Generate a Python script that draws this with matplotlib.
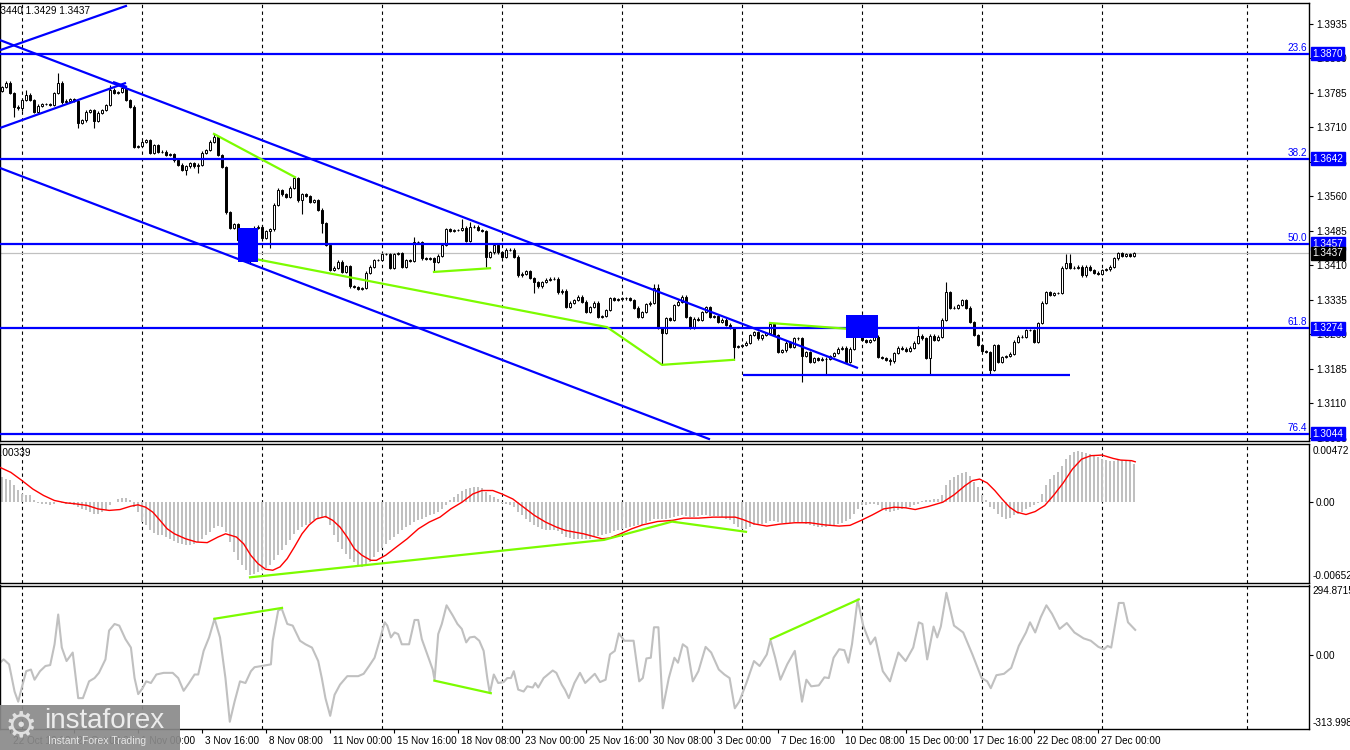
import matplotlib
matplotlib.use("Agg")
import matplotlib.pyplot as plt
import numpy as np
from matplotlib.patches import Rectangle
from matplotlib.transforms import blended_transform_factory, ScaledTranslation

plt.rcParams["font.family"] = ["Liberation Sans", "DejaVu Sans"]

# ---------------- data (H4 bars, prices in pips = 1e-4) ----------------
first_open = 13790
closes = [
    13798, 13807, 13785, 13755, 13752, 13770, 13781, 13770, 13744, 13757, 13761, 13761, 13759, 13785, 13807, 13765, 13768, 13772, 13768, 13720,
    13726, 13744, 13748, 13724, 13742, 13748, 13759, 13792, 13785, 13787, 13796, 13770, 13755, 13668, 13670, 13679, 13683, 13655, 13672, 13657,
    13657, 13650, 13652, 13639, 13629, 13618, 13626, 13633, 13626, 13629, 13655, 13661, 13679, 13689, 13650, 13624, 13526, 13492, 13500, 13465,
    13455, 13429, 13433, 13492, 13494, 13470, 13485, 13489, 13542, 13574, 13565, 13559, 13579, 13600, 13552, 13565, 13561, 13548, 13552, 13531,
    13502, 13455, 13400, 13405, 13418, 13396, 13409, 13365, 13363, 13359, 13361, 13394, 13407, 13422, 13422, 13435, 13435, 13405, 13435, 13437,
    13407, 13422, 13420, 13461, 13461, 13426, 13424, 13426, 13418, 13431, 13455, 13489, 13485, 13487, 13487, 13492, 13463, 13494, 13494, 13487,
    13485, 13429, 13439, 13455, 13439, 13429, 13444, 13444, 13429, 13389, 13392, 13398, 13383, 13374, 13365, 13374, 13379, 13381, 13381, 13352,
    13355, 13320, 13329, 13335, 13342, 13331, 13309, 13320, 13329, 13298, 13300, 13313, 13339, 13335, 13337, 13339, 13339, 13335, 13318, 13298,
    13309, 13326, 13329, 13361, 13274, 13263, 13296, 13292, 13324, 13331, 13342, 13298, 13274, 13294, 13292, 13309, 13320, 13298, 13300, 13287,
    13292, 13281, 13274, 13233, 13235, 13237, 13242, 13259, 13265, 13252, 13259, 13263, 13283, 13259, 13222, 13226, 13242, 13233, 13252, 13252,
    13213, 13222, 13200, 13209, 13205, 13207, 13207, 13213, 13220, 13229, 13231, 13200, 13229, 13265, 13270, 13248, 13244, 13248, 13255, 13211,
    13209, 13205, 13202, 13220, 13231, 13229, 13224, 13231, 13242, 13257, 13252, 13209, 13257, 13248, 13255, 13292, 13352, 13318, 13318, 13324,
    13335, 13318, 13287, 13259, 13237, 13224, 13222, 13183, 13237, 13200, 13211, 13213, 13218, 13244, 13255, 13255, 13270, 13270, 13244, 13285,
    13329, 13352, 13346, 13350, 13350, 13405, 13415, 13405, 13405, 13407, 13389, 13407, 13400, 13394, 13392, 13400, 13402, 13407, 13426, 13437,
    13431, 13435, 13431, 13437,
]
# upper / lower shadow length beyond the body, pips
wick_hi = [
    3, 4, 3, 3, 3, 3, 11, 3, 3, 3, 3, 3, 3, 3, 22, 3, 3, 3, 3, 3,
    3, 3, 3, 3, 3, 3, 3, 11, 3, 3, 11, 3, 3, 3, 3, 3, 3, 3, 3, 3,
    3, 3, 3, 3, 3, 3, 3, 3, 3, 3, 3, 3, 3, 7, 3, 3, 3, 3, 3, 3,
    3, 3, 3, 3, 3, 3, 3, 3, 3, 5, 3, 3, 3, 5, 3, 3, 3, 3, 3, 3,
    3, 3, 3, 3, 3, 3, 3, 3, 3, 3, 3, 3, 3, 3, 3, 3, 3, 3, 3, 3,
    3, 3, 3, 11, 3, 3, 3, 3, 3, 3, 3, 3, 3, 3, 3, 20, 3, 10, 3, 3,
    3, 3, 3, 3, 3, 3, 3, 3, 3, 3, 3, 3, 3, 3, 3, 3, 3, 3, 3, 3,
    3, 3, 3, 3, 3, 3, 3, 3, 3, 3, 3, 3, 3, 3, 3, 3, 3, 3, 3, 3,
    3, 3, 3, 9, 9, 3, 3, 3, 3, 3, 3, 3, 3, 3, 3, 3, 3, 3, 3, 3,
    3, 3, 3, 3, 3, 3, 3, 3, 3, 3, 3, 3, 3, 3, 3, 3, 3, 3, 3, 3,
    3, 3, 3, 3, 3, 3, 3, 3, 3, 3, 3, 3, 3, 3, 3, 3, 3, 3, 3, 3,
    3, 3, 3, 3, 3, 3, 3, 3, 3, 22, 3, 3, 3, 3, 3, 3, 22, 3, 3, 3,
    3, 3, 3, 3, 3, 3, 3, 3, 3, 3, 3, 3, 3, 3, 3, 3, 3, 3, 3, 3,
    3, 3, 3, 3, 3, 3, 20, 20, 3, 3, 3, 3, 3, 3, 3, 3, 3, 3, 3, 3,
    3, 3, 3, 3,
]
wick_lo = [
    3, 3, 3, 22, 3, 7, 3, 3, 3, 3, 3, 3, 3, 3, 3, 3, 3, 3, 3, 11,
    3, 3, 3, 15, 3, 3, 3, 3, 3, 3, 3, 3, 3, 3, 3, 3, 3, 3, 3, 3,
    3, 3, 3, 3, 3, 3, 11, 3, 3, 15, 3, 3, 3, 3, 3, 3, 3, 3, 3, 3,
    3, 11, 15, 3, 3, 3, 3, 37, 3, 3, 3, 3, 3, 3, 3, 30, 3, 3, 3, 3,
    22, 3, 3, 3, 3, 3, 3, 3, 3, 3, 3, 3, 3, 3, 3, 3, 3, 3, 3, 3,
    3, 3, 3, 3, 3, 3, 3, 3, 20, 3, 3, 3, 3, 3, 3, 3, 3, 3, 3, 3,
    3, 22, 3, 3, 3, 3, 3, 3, 3, 3, 3, 3, 3, 24, 3, 3, 3, 3, 3, 3,
    3, 3, 3, 3, 3, 3, 3, 3, 3, 3, 3, 3, 3, 3, 3, 3, 3, 3, 3, 3,
    3, 3, 3, 3, 3, 70, 3, 3, 3, 3, 3, 3, 3, 3, 3, 3, 3, 3, 3, 3,
    3, 3, 3, 28, 3, 3, 3, 3, 3, 3, 3, 3, 3, 3, 3, 3, 3, 3, 3, 3,
    57, 3, 3, 3, 3, 3, 36, 3, 3, 3, 3, 3, 3, 3, 3, 3, 3, 3, 3, 3,
    3, 3, 9, 3, 3, 3, 3, 3, 3, 3, 3, 3, 37, 3, 3, 3, 3, 3, 3, 3,
    3, 3, 3, 3, 3, 3, 3, 11, 3, 3, 3, 3, 3, 3, 3, 3, 3, 3, 3, 3,
    3, 3, 3, 3, 3, 3, 3, 3, 3, 3, 3, 3, 3, 3, 3, 3, 3, 3, 3, 3,
    3, 3, 3, 3,
]

last_price = 13437
top_line_text = "1.3440 1.3429 1.3437"
price_ticks = [13935, 13860, 13785, 13710, 13635, 13560, 13485, 13410, 13335, 13260, 13185, 13110, 13035]
fib_levels = [13870, 13642, 13457, 13274, 13044]
fib_names = ["23.6", "38.2", "50.0", "61.8", "76.4"]

# analyst trend lines: (bar, pips) pairs
blue_lines = [
    [(-0.5, 13878), (31.25, 13975)],
    [(-0.5, 13709), (31.0, 13807)],
    [(27.75, 13809), (31.25, 13798)],
    [(-0.5, 13900), (214.0, 13187)],
    [(-0.5, 13622), (177.0, 13032)],
    [(185.25, 13172), (267.0, 13172)],
]
green_main = [
    [(53.0, 13696), (73.25, 13602)],
    [(61.0, 13428), (151.25, 13276), (165.0, 13194), (183.0, 13205)],
    [(108.0, 13396), (122.0, 13404)],
    [(192.0, 13285), (215.0, 13270)],
]
blue_boxes = [(59.0, 64.0, 13417, 13491), (211.0, 219.0, 13252, 13302)]

# MACD(12,26,9), values in 1e-5
macd_hist = [
    200, 184, 176, 136, 96, 64, 56, 56, 16, -8,
    -16, -16, -24, -16, 0, -8, -16, -16, -24, -40,
    -56, -64, -80, -96, -96, -80, -64, -24, 0, 24,
    32, 32, 16, -40, -80, -160, -184, -224, -248, -264,
    -264, -280, -296, -312, -328, -336, -344, -344, -336, -320,
    -296, -264, -240, -208, -192, -200, -240, -320, -400, -464,
    -504, -544, -584, -576, -560, -544, -528, -504, -464, -424,
    -384, -344, -304, -256, -224, -200, -184, -168, -144, -128,
    -120, -128, -184, -264, -320, -376, -416, -456, -480, -512,
    -520, -504, -480, -440, -400, -368, -336, -304, -280, -256,
    -224, -200, -184, -160, -144, -136, -120, -104, -96, -80,
    -56, -24, 16, 40, 64, 88, 104, 112, 120, 120,
    112, 80, 56, 40, 24, -8, -16, -24, -40, -80,
    -104, -136, -160, -184, -200, -216, -224, -224, -224, -232,
    -256, -280, -288, -296, -296, -296, -296, -296, -280, -272,
    -264, -256, -248, -232, -224, -216, -208, -200, -192, -184,
    -184, -168, -152, -136, -136, -136, -136, -128, -120, -112,
    -104, -112, -120, -120, -112, -104, -104, -112, -112, -112,
    -120, -136, -144, -176, -200, -216, -216, -200, -184, -184,
    -176, -168, -152, -152, -160, -168, -168, -168, -160, -160,
    -168, -176, -184, -192, -200, -200, -200, -192, -184, -176,
    -168, -152, -136, -96, -56, -24, -24, -16, -16, -24,
    -56, -72, -80, -72, -64, -56, -48, -40, -24, -16,
    8, 16, 16, 24, 24, 56, 136, 176, 200, 216,
    232, 240, 208, 160, 120, 56, 16, -40, -56, -96,
    -120, -136, -128, -104, -96, -80, -56, -40, -24, -8,
    64, 136, 184, 216, 240, 288, 344, 376, 400, 408,
    400, 392, 384, 376, 360, 344, 336, 328, 328, 336,
    336, 336, 336, 304,
]
signal_bars = [
    -0.5, 2.2, 5.0, 7.7, 10.4, 13.1, 15.9, 18.6, 21.3, 24.0, 26.8, 29.5, 32.2, 34.0, 35.9, 37.7,
    39.5, 41.3, 43.1, 45.9, 48.6, 51.3, 54.0, 55.9, 58.6, 60.4, 62.2, 64.0, 65.9, 67.7, 69.5, 71.3,
    73.1, 75.0, 76.8, 78.6, 80.9, 82.7, 84.5, 86.3, 88.1, 90.0, 92.2, 93.6, 95.9, 98.6, 101.3, 104.1,
    106.8, 109.5, 112.2, 115.0, 117.7, 120.0, 122.7, 125.0, 127.7, 130.4, 133.1, 135.9, 138.6,
    140.75, 145.4, 150.0, 151.9, 154.6, 157.4, 160.2, 163.9, 167.6, 170.4, 174.1, 177.8, 183.3,
    185.2, 188.0, 191.2, 194.5, 198.2, 201.9, 205.6, 209.3, 212.0, 214.8, 217.6, 220.4, 223.1,
    225.9, 228.3, 231.5, 235.2, 238.0, 240.8, 242.6, 244.4, 246.3, 248.2, 250.0, 251.9, 253.7,
    256.0, 258.3, 260.7, 263.0, 265.3, 267.6, 269.9, 272.2, 275.0, 277.8, 279.6, 282.4, 283.3,
]
signal_vals = [
    280, 240, 174, 106, 54, 14, -5, -14, -26, -54, -66, -59, -32, -21, -40, -80,
    -146, -214, -254, -294, -320, -325, -280, -254, -280, -334, -427, -494, -539, -547, -520, -454,
    -360, -254, -182, -134, -115, -146, -200, -280, -374, -427, -467, -467, -427, -360, -294, -214,
    -160, -120, -54, 0, 66, 94, 94, 66, 26, -40, -106, -160, -200,
    -226, -254, -294, -288, -254, -214, -182, -155, -146, -128, -128, -120, -120,
    -139, -174, -192, -176, -165, -165, -182, -192, -186, -146, -102, -54, -40,
    -45, -59, -35, 0, 59, 134, 174, 186, 155, 94, 26, -40, -80,
    -99, -75, -26, 59, 155, 266, 346, 374, 379, 352, 339, 334, 325,
]
green_macd = [(62.0, -604), (150.5, -303), (167.5, -156), (186.0, -238)]
macd_label = "0.00339"

# CCI
cci_bars = [
    -0.5, 0.41, 1.77, 3.14, 4.05, 5.14, 6.05, 7.23, 8.14, 9.5,
    10.86, 12.05, 13.14, 14.05, 14.95, 16.14, 17.68, 19.05, 20.23, 21.77,
    23.14, 24.23, 25.86, 26.77, 28.14, 29.32, 30.86, 32.23, 33.14, 34.05,
    35.14, 36.05, 37.23, 38.59, 40.41, 42.68, 44.05, 45.41, 46.77, 48.14,
    49.05, 50.41, 51.77, 53.14, 54.5, 55.86, 56.95, 58.14, 59.5, 60.86,
    62.23, 63.14, 64.95, 67.23, 67.68, 69.05, 69.95, 71.32, 72.68, 74.5,
    75.86, 77.5, 79.05, 79.95, 80.86, 82.05, 83.14, 84.5, 86.32, 89.05,
    90.41, 91.77, 93.14, 94.5, 95.68, 96.32, 97.23, 98.14, 99.05, 99.95,
    101.77, 103.14, 104.05, 104.95, 106.32, 107.68, 108.14, 109.05, 109.95, 111.14,
    112.68, 113.86, 114.95, 116.05, 116.95, 118.14, 119.32, 120.41, 121.32, 121.95,
    122.95, 124.05, 125.41, 126.32, 127.23, 127.95, 129.05, 130.41, 131.32, 132.68,
    133.32, 134.05, 135.41, 137.68, 138.59, 139.95,
    140.75, 141.7, 143.1, 144.5, 145.8, 148.2, 149.5, 150.9, 152.0, 153.2,
    154.2, 155.6, 157.9, 159.3, 160.2, 161.1, 162.2, 163.0, 164.1, 165.2,
    166.7, 168.1, 169.0, 170.2, 171.3, 172.7, 174.1, 175.9, 177.3, 179.2,
    180.6, 181.9, 183.2, 184.3, 186.1, 188.0, 189.4, 191.2, 192.1, 193.3,
    194.6, 196.3, 198.2, 200.0, 201.1, 202.3, 204.2, 205.6, 206.7, 207.9,
    209.3, 210.6, 211.6, 212.5, 213.9, 215.3, 217.1, 218.3, 220.2, 222.0,
    224.1, 225.9, 227.8, 229.2, 230.1, 231.3, 232.9, 233.8, 234.7, 236.1,
    238.0, 240.3, 242.6, 244.9, 246.3, 247.2, 248.6, 250.5, 252.3, 254.2,
    256.0, 257.0, 258.3, 259.7, 261.1, 262.5, 264.4, 266.2, 268.1, 270.4,
    272.2, 274.1, 275.5, 276.4, 277.3, 279.2, 280.4, 281.5, 283.3,
]
cci_vals = [
    -32, -18, -39, -154, -197, -125, -68, -61, -104, -68,
    -46, -42, 46, 172, 32, -25, 11, -182, -182, -111,
    -97, -75, -18, 104, 132, 125, 68, 32, -97, -165,
    -140, -111, -118, -82, -75, -75, -97, -151, -118, -82,
    -82, 18, 75, 154, 75, -97, -282, -197, -111, -118,
    -68, -51, -46, -39, 61, 189, 196, 132, 125, 61,
    46, 32, -25, -97, -182, -257, -168, -125, -89, -89,
    -79, -46, -11, 68, 139, 125, 75, 96, 89, 46,
    46, 149, 149, 68, 3, -61, -104, 89, 132, 211,
    168, 132, 111, 54, 75, 78, 61, 18, -97, -161,
    -82, -118, -114, -97, -97, -68, -146, -154, -132, -137,
    -118, -137, -97, -65, -75, -125,
    -147, -182, -118, -75, -118, -79, -114, -104, 3, 18,
    92, 61, 61, -111, -97, -14, -11, 118, 118, -225,
    -97, -11, -32, 46, 32, -111, -68, 35, 11, -61,
    -82, -97, -225, -197, -118, -25, -46, 3, 64, -11,
    -104, -39, 18, -197, -104, -132, -128, -94, -97, -11,
    25, 21, -32, 46, 235, 125, 46, 75, -68, -111,
    11, -25, 32, 139, 132, -18, 121, 75, 121, 264,
    125, 96, 3, -97, -111, -140, -85, -79, -54, 39,
    96, 139, 96, 161, 211, 175, 111, 136, 96, 71,
    61, 35, 25, 39, 32, 221, 221, 139, 107,
]
green_cci = [
    [(53.1, 154), (70.0, 200)],
    [(108.1, -108), (122.2, -161)],
    [(192.2, 68), (214.2, 236)],
]
cci_max, cci_min = 294.8715, -313.998
macd_max, macd_min = 0.00472, -0.00652

date_bars = [2, 18, 34, 50, 66, 82, 98, 114, 130, 146, 162, 178, 194, 210, 226, 242, 258, 274]
date_labels = ["22 Oct 16:00", "27 Oct 08:00", "1 Nov 00:00", "3 Nov 16:00", "8 Nov 08:00",
               "11 Nov 00:00", "15 Nov 16:00", "18 Nov 08:00", "23 Nov 00:00", "25 Nov 16:00",
               "30 Nov 08:00", "3 Dec 00:00", "7 Dec 16:00", "10 Dec 08:00", "15 Dec 00:00",
               "17 Dec 16:00", "22 Dec 08:00", "27 Dec 00:00"]
grid_bars = [5, 35, 65, 95, 125, 155, 185, 215, 245, 275, 311.25]

# ---------------- figure ----------------
BLUE = "#0000ff"
GREEN = "#7cfc00"
GREY = "#c0c0c0"
FS = 7.2
W, H = 1350.0, 750.0


def frac(x0, y0, x1, y1):
    return [x0 / W, 1 - y1 / H, (x1 - x0) / W, (y1 - y0) / H]


fig = plt.figure(figsize=(13.5, 7.5), dpi=100)
ax = fig.add_axes(frac(0, 2.7, 1309, 440.7))
ax_m = fig.add_axes(frac(0, 443.5, 1309, 583.3))
ax_c = fig.add_axes(frac(0, 585.5, 1309, 729.3))

for a in (ax, ax_m, ax_c):
    a.set_xlim(-0.5, 326.75)
    for s in a.spines.values():
        s.set_color("black")
        s.set_linewidth(1.0)
    a.yaxis.tick_right()
    a.tick_params(axis="y", direction="out", length=3, width=0.8, pad=2, labelsize=FS, colors="black")
    a.tick_params(axis="x", length=0, labelbottom=False)
    for b in grid_bars:
        a.axvline(b, color="black", lw=0.8, ls=(0, (3, 3)), zorder=1)

# price panel
x = np.arange(len(closes))
o = np.array([first_open] + closes[:-1]) / 1e4
c = np.array(closes) / 1e4
body_top = np.maximum(o, c)
body_bot = np.minimum(o, c)
hi = body_top + np.array(wick_hi) / 1e4
lo = body_bot - np.array(wick_lo) / 1e4
colors = np.where(c >= o, "white", "black")

ax.set_ylim(1.30291, 1.39813)
ax.set_yticks([p / 1e4 for p in price_ticks])
ax.set_yticklabels([f"{p / 1e4:.4f}" for p in price_ticks])

ax.axhline(last_price / 1e4, color=GREY, lw=0.9, zorder=1.5)
ax.vlines(x, lo, hi, color="black", lw=0.8, zorder=2)
ax.bar(x, c - o, bottom=o, width=0.6, color=colors, edgecolor="black", linewidth=0.7, zorder=3)

for line in blue_lines:
    ax.plot([p[0] for p in line], [p[1] / 1e4 for p in line], color=BLUE, lw=1.6, zorder=4,
            solid_capstyle="butt")
for line in green_main:
    ax.plot([p[0] for p in line], [p[1] / 1e4 for p in line], color=GREEN, lw=1.6, zorder=5)
for b0, b1, p0, p1 in blue_boxes:
    ax.add_patch(Rectangle((b0, p0 / 1e4), b1 - b0, (p1 - p0) / 1e4, facecolor=BLUE,
                           edgecolor="none", zorder=6))

trans = blended_transform_factory(ax.transAxes, ax.transData)
for lvl, name in zip(fib_levels, fib_names):
    ax.axhline(lvl / 1e4, color=BLUE, lw=1.6, zorder=4)
    ax.text(0.9985, lvl / 1e4 + 0.0002, name, transform=trans, ha="right", va="bottom",
            color=BLUE, fontsize=FS)
    ax.text(1.0025, lvl / 1e4, f"{lvl / 1e4:.4f}", transform=trans, ha="left", va="center",
            color="white", fontsize=FS, clip_on=False, zorder=10,
            bbox=dict(boxstyle="square,pad=0.15", fc=BLUE, ec=BLUE))
ax.text(1.0025, last_price / 1e4, f"{last_price / 1e4:.4f}", transform=trans, ha="left",
        va="center", color="white", fontsize=FS, clip_on=False, zorder=10,
        bbox=dict(boxstyle="square,pad=0.15", fc="black", ec="black"))
fig.text(-8 / W, 1 - 11 / H, top_line_text, fontsize=FS, ha="left", va="center")

# MACD panel
ax_m.set_ylim(macd_min, macd_max)
ax_m.bar(x, np.array(macd_hist) / 1e5, width=0.72, color=GREY, zorder=2)
ax_m.plot(signal_bars, np.array(signal_vals) / 1e5, color="red", lw=1.0, zorder=3)
ax_m.plot([p[0] for p in green_macd], [p[1] / 1e5 for p in green_macd], color=GREEN, lw=1.6, zorder=4)
ax_m.set_yticks([0])
ax_m.set_yticklabels(["0.00"])
ax_m.text(1.003, 0.985, f"{macd_max:.5f}", transform=ax_m.transAxes, ha="left", va="top", fontsize=FS)
ax_m.text(1.003, 0.015, f"{macd_min:.5f}", transform=ax_m.transAxes, ha="left", va="bottom", fontsize=FS)
ax_m.text(-0.004, 0.93, macd_label, transform=ax_m.transAxes, ha="left", va="center", fontsize=FS)

# CCI panel
ax_c.set_ylim(cci_min, cci_max)
ax_c.plot(cci_bars, cci_vals, color=GREY, lw=1.5, zorder=2)
for line in green_cci:
    ax_c.plot([p[0] for p in line], [p[1] for p in line], color=GREEN, lw=1.6, zorder=3)
ax_c.set_yticks([0])
ax_c.set_yticklabels(["0.00"])
ax_c.text(1.003, 0.995, f"{cci_max:.4f}", transform=ax_c.transAxes, ha="left", va="top", fontsize=FS)
ax_c.text(1.003, 0.01, f"{cci_min:.3f}", transform=ax_c.transAxes, ha="left", va="bottom", fontsize=FS)

# time axis
ax_c.set_xticks(date_bars)
ax_c.set_xticklabels(date_labels)
ax_c.tick_params(axis="x", length=3, width=0.8, direction="out", labelbottom=True,
                 labelsize=FS, pad=2)
shift = ScaledTranslation(3 / 100, 0, fig.dpi_scale_trans)
for lab in ax_c.get_xticklabels():
    lab.set_horizontalalignment("left")
    lab.set_transform(lab.get_transform() + shift)

# watermark
fig.patches.append(Rectangle((0, 0), 180 / W, 45 / H, transform=fig.transFigure,
                             facecolor="#8a8a8a", edgecolor="none", alpha=0.92, zorder=20))
fig.text(5 / W, 1 - 726 / H, "\u2699", fontsize=26, color="#e0e0e0", ha="left", va="center",
         zorder=21, family="DejaVu Sans")
fig.text(44 / W, 1 - 721 / H, "instaforex", fontsize=20, color="#ececec", ha="left", va="center",
         zorder=21)
fig.text(48 / W, 1 - 741 / H, "Instant Forex Trading", fontsize=7.5, color="#e6e6e6", ha="left",
         va="center", zorder=21)

fig.savefig("out.png", dpi=100)
